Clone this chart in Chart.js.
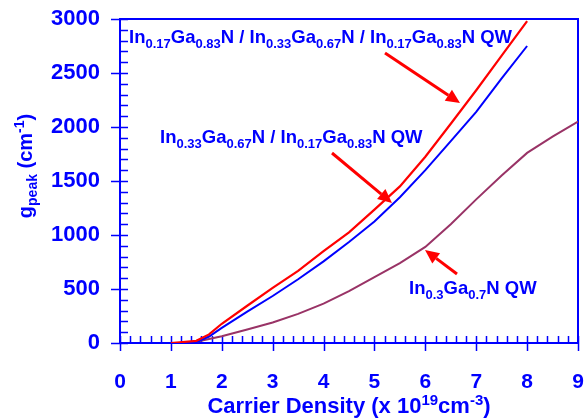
<!DOCTYPE html>
<html>
<head>
<meta charset="utf-8">
<script src="https://cdn.jsdelivr.net/npm/chart.js@4.4.0/dist/chart.umd.min.js"></script>
<style>
  body { margin: 0; background: #fff; }
  canvas { display: block; }
</style>
</head>
<body>
<canvas id="gainChart" width="585" height="419"></canvas>
<script>
// carrier density (x 1e19 cm^-3) and peak gain (cm^-1)
const stepDensity = [1.0, 1.5, 1.75, 2, 2.5, 3, 3.5, 4, 4.5, 5, 5.5, 6, 6.5, 7, 7.5, 8];
const stepGain = [0, 20, 80, 178, 345, 510, 668, 850, 1025, 1235, 1450, 1725, 2030, 2340, 2660, 2980];

const dqwDensity = [1.3, 1.5, 1.75, 2, 2.5, 3, 3.5, 4, 4.5, 5, 5.5, 6, 6.5, 7, 7.5, 8];
const dqwGain = [0, 8, 60, 140, 290, 435, 590, 756, 935, 1125, 1350, 1600, 1870, 2140, 2450, 2750];

const sqwDensity = [1.3, 1.5, 2, 2.5, 3, 3.5, 4, 4.5, 5, 5.5, 6, 6.5, 7, 7.5, 8, 8.5, 9];
const sqwGain = [0, 12, 62, 125, 190, 270, 364, 480, 610, 740, 890, 1100, 1330, 1550, 1760, 1910, 2050];

const seriesLabels = [
    "In0.17Ga0.83N / In0.33Ga0.67N / In0.17Ga0.83N QW",
    "In0.33Ga0.67N / In0.17Ga0.83N QW",
    "In0.3Ga0.7N QW"
];

const xMin = 0, xMax = 9, xStep = 1, xMinorStep = 0.2;
const yMin = 0, yMax = 3000, yStep = 500, yMinorStep = 100;

const BLUE = "#0000ff";
const RED = "#ff0000";
const PLUM = "#993366";
const FONT = "'Liberation Sans', Arial, sans-serif";

function toPoints(xs, ys) {
    return xs.map((x, i) => ({ x: x, y: ys[i] }));
}

// split "In0.17Ga0.83N" into normal text and subscript numbers
function subParts(label) {
    const parts = [];
    label.split(/(\d+\.\d+)/).forEach((t, i) => {
        if (t !== "") parts.push({ t: t, s: i % 2 === 1 ? 1 : 0 });
    });
    return parts;
}

// s: 0 normal, 1 subscript, -1 superscript
function drawRich(ctx, parts, x, y, size, align) {
    const small = Math.round(size * 0.68);
    let total = 0;
    parts.forEach(p => {
        ctx.font = "bold " + (p.s ? small : size) + "px " + FONT;
        p.w = ctx.measureText(p.t).width;
        total += p.w;
    });
    let cx = align === "center" ? x - total / 2 : x;
    ctx.textAlign = "left";
    ctx.textBaseline = "alphabetic";
    parts.forEach(p => {
        ctx.font = "bold " + (p.s ? small : size) + "px " + FONT;
        let dy = 0;
        if (p.s === 1) dy = size * 0.27;
        if (p.s === -1) dy = -size * 0.38;
        ctx.fillText(p.t, cx, y + dy);
        cx += p.w;
    });
    return total;
}

function drawArrow(ctx, x1, y1, x2, y2) {
    const ang = Math.atan2(y2 - y1, x2 - x1);
    const head = 14, half = 6.5;
    const bx = x2 - head * Math.cos(ang), by = y2 - head * Math.sin(ang);
    ctx.strokeStyle = RED;
    ctx.fillStyle = RED;
    ctx.lineWidth = 3;
    ctx.beginPath();
    ctx.moveTo(x1, y1);
    ctx.lineTo(bx, by);
    ctx.stroke();
    ctx.beginPath();
    ctx.moveTo(x2, y2);
    ctx.lineTo(bx + half * Math.sin(ang), by - half * Math.cos(ang));
    ctx.lineTo(bx - half * Math.sin(ang), by + half * Math.cos(ang));
    ctx.closePath();
    ctx.fill();
}

// box, major and minor ticks
const axesPlugin = {
    id: "axesBox",
    beforeDatasetsDraw(chart) {
        const ctx = chart.ctx, ca = chart.chartArea;
        const xs = chart.scales.x, ys = chart.scales.y;
        ctx.save();
        ctx.strokeStyle = BLUE;
        ctx.lineWidth = 2;
        ctx.strokeRect(ca.left, ca.top, ca.right - ca.left, ca.bottom - ca.top);

        ctx.lineWidth = 1.5;
        ctx.beginPath();
        for (let v = xMin; v <= xMax + 1e-6; v += xMinorStep) {
            const px = Math.round(xs.getPixelForValue(v)) + 0.5;
            const major = Math.abs(v - Math.round(v / xStep) * xStep) < 1e-6;
            ctx.moveTo(px, ca.bottom - 7);
            ctx.lineTo(px, ca.bottom + (major ? 8 : 0));
        }
        for (let v = yMin; v <= yMax + 1e-6; v += yMinorStep) {
            const py = Math.round(ys.getPixelForValue(v)) + 0.5;
            const major = v % yStep === 0;
            ctx.moveTo(ca.left + 8, py);
            ctx.lineTo(ca.left - (major ? 9 : 0), py);
        }
        ctx.stroke();
        ctx.restore();
    },
    afterDraw(chart) {
        const ctx = chart.ctx;
        ctx.save();
        ctx.fillStyle = BLUE;

        drawRich(ctx, subParts(seriesLabels[0]), 129, 43, 18.5, "left");
        drawRich(ctx, subParts(seriesLabels[1]), 160, 143, 18.5, "left");
        drawRich(ctx, subParts(seriesLabels[2]), 409, 294, 18.5, "left");

        drawRich(ctx, [
            { t: "Carrier Density (x 10", s: 0 },
            { t: "19", s: -1 },
            { t: "cm", s: 0 },
            { t: "-3", s: -1 },
            { t: ")", s: 0 }
        ], 349, 413, 22, "center");

        ctx.save();
        ctx.translate(32, 166);
        ctx.rotate(-Math.PI / 2);
        drawRich(ctx, [
            { t: "g", s: 0 },
            { t: "peak", s: 1 },
            { t: " (cm", s: 0 },
            { t: "-1", s: -1 },
            { t: ")", s: 0 }
        ], 0, 0, 20, "center");
        ctx.restore();

        drawArrow(ctx, 385, 53, 460, 103);
        drawArrow(ctx, 332, 153, 392, 203);
        drawArrow(ctx, 457, 274, 425, 250);
        ctx.restore();
    }
};

new Chart(document.getElementById("gainChart"), {
    type: "line",
    data: {
        datasets: [
            { label: seriesLabels[0], data: toPoints(stepDensity, stepGain), borderColor: RED, borderWidth: 2.2 },
            { label: seriesLabels[1], data: toPoints(dqwDensity, dqwGain), borderColor: BLUE, borderWidth: 2 },
            { label: seriesLabels[2], data: toPoints(sqwDensity, sqwGain), borderColor: PLUM, borderWidth: 2 }
        ]
    },
    options: {
        responsive: false,
        animation: false,
        layout: { autoPadding: false, padding: { top: 19, right: 7, left: 0, bottom: 0 } },
        elements: { point: { radius: 0 }, line: { tension: 0, fill: false } },
        plugins: { legend: { display: false }, tooltip: { enabled: false } },
        scales: {
            x: {
                type: "linear",
                min: xMin, max: xMax,
                grid: { display: false, drawTicks: false },
                border: { display: false },
                ticks: {
                    stepSize: xStep, color: BLUE, padding: 27,
                    font: { family: FONT, size: 21, weight: "bold" },
                    callback: v => String(v)
                },
                afterFit(scale) {
                    scale.height = 76;
                    scale.paddingLeft = 0;
                    scale.paddingRight = 0;
                }
            },
            y: {
                type: "linear",
                min: yMin, max: yMax,
                grid: { display: false, drawTicks: false },
                border: { display: false },
                ticks: {
                    stepSize: yStep, color: BLUE, padding: 20,
                    font: { family: FONT, size: 22, weight: "bold" },
                    callback: v => String(v)
                },
                afterFit(scale) {
                    scale.width = 120;
                    scale.paddingTop = 0;
                    scale.paddingBottom = 0;
                }
            }
        }
    },
    plugins: [axesPlugin]
});
</script>
</body>
</html>
